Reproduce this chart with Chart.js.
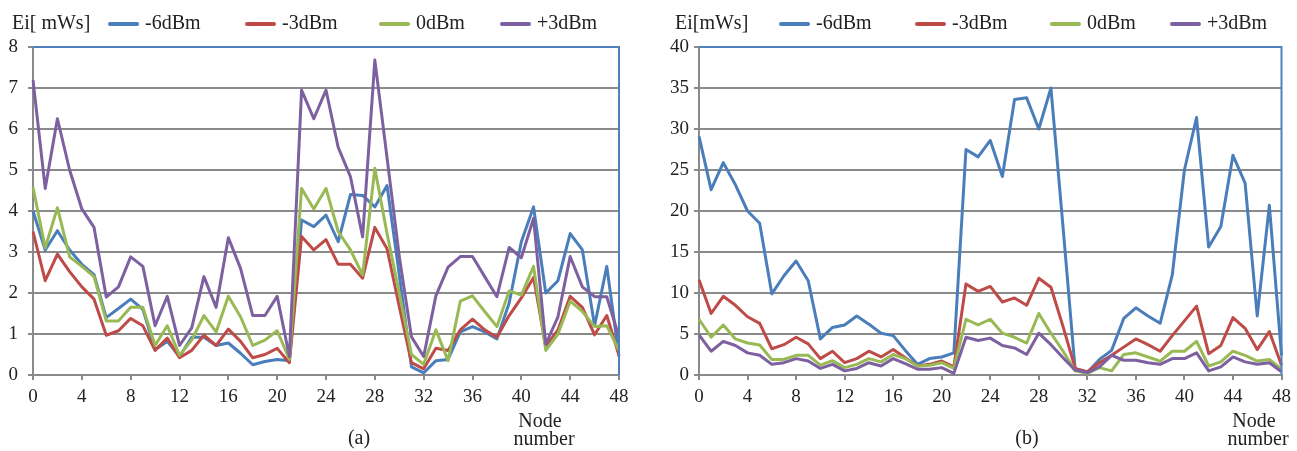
<!DOCTYPE html>
<html>
<head>
<meta charset="utf-8">
<script src="https://cdn.jsdelivr.net/npm/chart.js@4.4.1/dist/chart.umd.min.js"></script>
<style>
  html, body { margin: 0; padding: 0; background: #fff; }
  #wrap { position: relative; width: 1297px; height: 451px; }
  #chartA { position: absolute; left: 0; top: 0; }
  #chartB { position: absolute; left: 650px; top: 0; }
</style>
</head>
<body>
<div id="wrap">
  <canvas id="chartA" width="648" height="451"></canvas>
  <canvas id="chartB" width="647" height="451"></canvas>
</div>
<script>
// node numbers on the x axis
const nodes = ['0','1','2','3','4','5','6','7','8','9','10','11','12','13','14','15','16',
  '17','18','19','20','21','22','23','24','25','26','27','28','29','30','31','32','33',
  '34','35','36','37','38','39','40','41','42','43','44','45','46','47','48'];

const seriesLabels = ['-6dBm', '-3dBm', '0dBm', '+3dBm'];

// (a) Ei [mWs]
const aMinus6 = [4.0, 3.05, 3.52, 3.05, 2.7, 2.45, 1.4, 1.62, 1.85, 1.6, 0.62, 0.82, 0.45, 0.92, 0.92, 0.72, 0.78, 0.53, 0.25, 0.33, 0.38, 0.35,
  3.78, 3.62, 3.9, 3.25, 4.4, 4.38, 4.1, 4.62, 2.45, 0.2, 0.05, 0.35, 0.38, 1.05, 1.18, 1.05, 0.88, 1.75, 3.25, 4.1, 2.0, 2.3, 3.45, 3.05, 1.2, 2.65, 0.45];
const aMinus3 = [3.5, 2.3, 2.95, 2.52, 2.15, 1.85, 0.97, 1.08, 1.38, 1.2, 0.6, 0.9, 0.42, 0.6, 0.97, 0.72, 1.12, 0.82, 0.42, 0.5, 0.65, 0.3,
  3.38, 3.05, 3.3, 2.7, 2.7, 2.36, 3.6, 3.08, 1.67, 0.3, 0.15, 0.65, 0.6, 1.1, 1.36, 1.1, 0.92, 1.45, 1.88, 2.38, 0.7, 1.1, 1.92, 1.65, 0.98, 1.45, 0.48];
const aZero = [4.58, 3.1, 4.08, 2.88, 2.65, 2.4, 1.32, 1.32, 1.65, 1.65, 0.72, 1.2, 0.48, 0.85, 1.45, 1.05, 1.92, 1.42, 0.72, 0.85, 1.08, 0.38,
  4.55, 4.05, 4.55, 3.5, 3.05, 2.44, 5.04, 3.45, 2.0, 0.5, 0.26, 1.1, 0.35, 1.8, 1.93, 1.55, 1.18, 2.05, 1.95, 2.65, 0.6, 1.0, 1.8, 1.55, 1.18, 1.2, 0.6];
const aPlus3 = [7.2, 4.55, 6.25, 5.0, 4.05, 3.6, 1.9, 2.15, 2.88, 2.65, 1.2, 1.92, 0.72, 1.15, 2.4, 1.65, 3.35, 2.6, 1.45, 1.45, 1.92, 0.45,
  6.95, 6.25, 6.95, 5.55, 4.84, 3.37, 7.68, 5.3, 2.9, 0.93, 0.45, 1.93, 2.63, 2.89, 2.89, 2.4, 1.91, 3.11, 2.86, 3.82, 0.75, 1.42, 2.89, 2.15, 1.91, 1.91, 0.93];

// (b) Ei [mWs]
const bMinus6 = [29.1, 22.6, 25.9, 23.2, 20.0, 18.5, 9.9, 12.1, 13.9, 11.5, 4.4, 5.8, 6.1, 7.2, 6.2, 5.1, 4.8, 3.0, 1.3, 2.0, 2.2, 2.7,
  27.5, 26.6, 28.6, 24.2, 33.6, 33.8, 30.0, 35.0, 18.0, 0.6, 0.3, 1.9, 3.0, 6.9, 8.2, 7.2, 6.3, 12.2, 25.0, 31.4, 15.6, 18.1, 26.8, 23.4, 7.2, 20.7, 2.4];
const bMinus3 = [11.6, 7.5, 9.6, 8.5, 7.1, 6.3, 3.2, 3.7, 4.6, 3.8, 2.0, 2.9, 1.5, 2.0, 2.9, 2.2, 3.1, 2.1, 1.1, 1.3, 1.7, 1.0,
  11.1, 10.2, 10.8, 8.9, 9.4, 8.5, 11.8, 10.7, 5.9, 0.8, 0.4, 1.5, 2.4, 3.4, 4.4, 3.7, 2.9, 4.8, 6.6, 8.4, 2.6, 3.6, 7.0, 5.7, 3.1, 5.3, 1.2];
const bZero = [6.8, 4.6, 6.1, 4.4, 3.9, 3.66, 1.9, 1.9, 2.4, 2.4, 1.2, 1.75, 0.9, 1.3, 2.0, 1.6, 2.5, 2.0, 1.1, 1.2, 1.5, 0.8,
  6.8, 6.1, 6.8, 5.1, 4.6, 3.9, 7.5, 5.1, 2.9, 0.5, 0.2, 0.9, 0.5, 2.5, 2.7, 2.2, 1.7, 2.9, 2.9, 4.1, 1.1, 1.6, 2.9, 2.4, 1.7, 1.9, 0.7];
const bPlus3 = [4.9, 2.9, 4.1, 3.6, 2.7, 2.4, 1.3, 1.5, 2.0, 1.7, 0.8, 1.3, 0.5, 0.8, 1.5, 1.1, 2.0, 1.4, 0.7, 0.7, 0.9, 0.2,
  4.6, 4.2, 4.5, 3.6, 3.3, 2.5, 5.1, 3.7, 2.1, 0.6, 0.3, 1.0, 2.4, 1.8, 1.8, 1.5, 1.3, 2.0, 2.0, 2.7, 0.5, 1.0, 2.2, 1.6, 1.3, 1.5, 0.4];

const colors = ['#4a7ebb', '#be4b48', '#98b954', '#7d60a0'];
const gridGray = '#8a8a8a';
const serif = '"Liberation Serif", "Times New Roman", serif';

// blue plot frame, hand drawn legend, panel captions
const decor = {
  id: 'decor',
  afterDraw(chart, args, o) {
    const { ctx, chartArea: a } = chart;
    ctx.save();
    ctx.strokeStyle = '#4f81bd';
    ctx.lineWidth = 2;
    ctx.beginPath();
    ctx.moveTo(a.left, a.top);
    ctx.lineTo(a.right, a.top);
    ctx.lineTo(a.right, a.bottom);
    ctx.stroke();

    ctx.font = '20px ' + serif;
    ctx.fillStyle = '#222';
    ctx.textBaseline = 'alphabetic';
    ctx.fillText(o.unit, o.unitX, 29);
    chart.data.datasets.forEach((ds, i) => {
      const x = o.legendX[i];
      ctx.strokeStyle = ds.borderColor;
      ctx.lineWidth = 4;
      ctx.lineCap = 'round';
      ctx.beginPath();
      ctx.moveTo(x + 2, 24);
      ctx.lineTo(x + 29, 24);
      ctx.stroke();
      ctx.fillText(ds.label, x + 37, 29);
    });

    ctx.textAlign = 'center';
    ctx.fillText(o.panel, o.panelX, 444);
    ctx.fillText('Node', o.nodeX, 427);
    ctx.fillText('number', o.nodeX + 4, 445);
    ctx.restore();
  }
};

function makeChart(id, sets, yMax, yStep, axisLeft, padRight, labelPad, o) {
  new Chart(document.getElementById(id), {
    type: 'line',
    data: {
      labels: nodes,
      datasets: sets.map((d, i) => ({
        label: seriesLabels[i],
        data: d,
        borderColor: colors[i],
        backgroundColor: colors[i],
        borderWidth: 3,
        pointRadius: 0,
        tension: 0,
        borderJoinStyle: 'round',
        order: 4 - i
      }))
    },
    options: {
      responsive: false,
      animation: false,
      layout: { padding: { top: 47, right: padRight, left: 0, bottom: 0 } },
      plugins: { legend: { display: false }, tooltip: { enabled: false }, decor: o },
      scales: {
        x: {
          offset: false,
          afterFit: s => { s.height = 76; },
          grid: { drawOnChartArea: false, color: gridGray, lineWidth: 2, tickLength: 5 },
          border: { color: gridGray, width: 2 },
          ticks: {
            autoSkip: false, maxRotation: 0, padding: 6,
            color: '#222', font: { family: serif, size: 19 },
            callback: function (v, i) { return i % 4 === 0 ? this.getLabelForValue(v) : null; }
          }
        },
        y: {
          min: 0, max: yMax,
          afterFit: s => { s.width = axisLeft; },
          grid: { color: gridGray, lineWidth: 2, tickLength: 5 },
          border: { color: gridGray, width: 2 },
          ticks: { stepSize: yStep, padding: labelPad, color: '#222', font: { family: serif, size: 19 } }
        }
      }
    },
    plugins: [decor]
  });
}

makeChart('chartA', [aMinus6, aMinus3, aZero, aPlus3], 8, 1, 33, 29, 10,
  { unit: 'Ei[ mWs]', unitX: 12, legendX: [108, 245, 379, 500], panel: '(a)', panelX: 359, nodeX: 540 });
makeChart('chartB', [bMinus6, bMinus3, bZero, bPlus3], 40, 5, 49, 12, 5,
  { unit: 'Ei[mWs]', unitX: 25, legendX: [129, 265, 400, 520], panel: '(b)', panelX: 377, nodeX: 604 });
</script>
</body>
</html>
